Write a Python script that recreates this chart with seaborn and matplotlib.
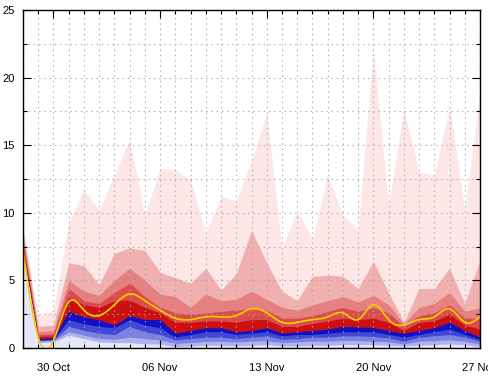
import numpy as np
import pandas as pd
import matplotlib
matplotlib.use('Agg')
import matplotlib.pyplot as plt
import matplotlib.dates as mdates
import seaborn as sns

# daily values, 28 Oct .. 27 Nov (31 days)
days = pd.date_range('2023-10-28', '2023-11-27', freq='D')

q10 = [6.9, 0.4, 0.45, 0.95, 0.7, 0.45, 0.4, 0.4, 0.3, 0.3, 0.1, 0.15, 0.2, 0.2, 0.15, 0.2,
       0.25, 0.15, 0.15, 0.2, 0.2, 0.25, 0.25, 0.25, 0.2, 0.15, 0.2, 0.25, 0.3, 0.25, 0.1]
q20 = [7.0, 0.5, 0.55, 1.2, 0.95, 0.7, 0.65, 0.8, 0.7, 0.6, 0.35, 0.4, 0.5, 0.5, 0.45, 0.5,
       0.55, 0.4, 0.45, 0.5, 0.5, 0.55, 0.55, 0.5, 0.45, 0.3, 0.5, 0.55, 0.6, 0.5, 0.3]
q30 = [7.1, 0.55, 0.6, 1.6, 1.3, 1.1, 1.0, 1.6, 1.2, 1.0, 0.6, 0.7, 0.8, 0.8, 0.7, 0.8,
       0.9, 0.65, 0.7, 0.8, 0.8, 0.9, 0.9, 0.85, 0.75, 0.5, 0.8, 0.9, 1.0, 0.8, 0.5]
q40 = [7.15, 0.6, 0.65, 2.1, 1.8, 1.6, 1.5, 2.1, 1.7, 1.5, 0.8, 1.0, 1.2, 1.2, 1.0, 1.1,
       1.2, 0.9, 1.0, 1.0, 1.1, 1.2, 1.2, 1.2, 1.0, 0.8, 1.0, 1.2, 1.4, 1.0, 0.65]
q50 = [7.2, 0.7, 0.75, 2.7, 2.3, 2.1, 1.7, 2.4, 2.1, 2.1, 1.1, 1.3, 1.5, 1.5, 1.2, 1.3,
       1.5, 1.1, 1.2, 1.3, 1.4, 1.6, 1.55, 1.5, 1.3, 1.1, 1.3, 1.5, 1.9, 1.3, 0.8]
q60 = [7.5, 0.85, 0.9, 3.7, 3.2, 3.0, 3.5, 3.55, 3.0, 2.6, 1.9, 1.9, 2.0, 2.0, 1.9, 2.1,
       2.1, 1.6, 1.6, 1.8, 2.0, 2.2, 2.1, 2.2, 1.9, 1.3, 1.9, 2.0, 2.5, 1.7, 1.4]
q70 = [7.9, 1.0, 1.05, 4.4, 3.5, 3.3, 4.1, 4.8, 3.8, 3.0, 2.6, 2.5, 2.6, 2.7, 2.8, 2.9,
       2.8, 2.2, 2.2, 2.4, 2.7, 3.0, 2.7, 3.0, 2.6, 1.6, 2.4, 2.6, 3.2, 2.2, 2.2]
q80 = [8.3, 1.2, 1.3, 5.0, 4.2, 3.9, 5.0, 5.9, 5.0, 4.0, 3.8, 3.0, 4.0, 3.5, 3.6, 4.2,
       3.6, 3.0, 2.8, 3.2, 3.5, 3.8, 3.4, 3.9, 3.2, 1.8, 3.0, 3.3, 4.1, 2.7, 3.0]
q90 = [8.7, 1.6, 1.7, 6.3, 6.1, 4.7, 7.0, 7.4, 7.2, 5.6, 5.2, 4.8, 5.9, 4.3, 5.5, 8.7,
       6.3, 4.2, 3.5, 5.3, 5.4, 5.3, 4.4, 6.4, 4.1, 1.9, 4.4, 4.4, 5.9, 3.3, 6.5]
qmax = [9.0, 2.4, 2.8, 9.3, 11.7, 10.2, 12.8, 15.4, 9.8, 13.3, 13.2, 12.4, 8.5, 11.2, 10.9, 13.8,
        17.4, 7.4, 10.1, 8.1, 12.8, 9.8, 8.7, 22.2, 10.5, 17.7, 13.0, 12.8, 17.9, 10.2, 19.0]
mean = [7.2, 0.8, 0.55, 3.4, 2.8, 2.4, 3.2, 4.0, 3.5, 2.8, 2.2, 2.1, 2.3, 2.3, 2.4, 2.9,
        2.6, 1.9, 1.9, 2.1, 2.3, 2.6, 2.1, 3.2, 2.1, 1.7, 2.1, 2.3, 2.9, 1.9, 2.3]

band_colors = ['#e6e6fa', '#aeb2ee', '#7c82e2', '#4048d6', '#1010c4',
               '#cc1010', '#dc4a4a', '#e68080', '#f0b0b0', '#fde6e6']


def csplines(y, n=12):
    # natural cubic spline through daily points
    y = np.asarray(y, float)
    m = len(y)
    A = np.zeros((m, m))
    b = np.zeros(m)
    A[0, 0] = A[-1, -1] = 1
    for i in range(1, m - 1):
        A[i, i - 1], A[i, i], A[i, i + 1] = 1, 4, 1
        b[i] = 6 * (y[i + 1] - 2 * y[i] + y[i - 1])
    M = np.linalg.solve(A, b)
    t = np.linspace(0, m - 1, (m - 1) * n + 1)
    i = np.minimum(t.astype(int), m - 2)
    u = t - i
    yy = ((1 - u) * y[i] + u * y[i + 1]
          + ((1 - u) ** 3 - (1 - u)) * M[i] / 6 + (u ** 3 - u) * M[i + 1] / 6)
    return t, yy


sns.set_style('ticks')
plt.rcParams['font.family'] = ['Liberation Sans', 'DejaVu Sans']

fig = plt.figure(figsize=(4.88, 3.76), dpi=100)
ax = fig.add_axes([23 / 488, 1 - 348 / 376, 457 / 488, 338 / 376])

levels = [q10, q20, q30, q40, q50, q60, q70, q80, q90, qmax]
# paint from the top band downwards so bands never leave seams
for lev, col in reversed(list(zip(levels, band_colors))):
    ax.fill_between(days, 0, lev, color=col, lw=0, zorder=1)

t, sm = csplines(mean)
sm_days = days[0] + pd.to_timedelta(t, unit='D')
sns.lineplot(x=sm_days, y=sm, ax=ax, color='#f2d000', lw=1.2, zorder=4)

ax.set_xlim(days[0], days[-1])
ax.set_ylim(0, 25)
ax.set_xticks(pd.to_datetime(['2023-10-30', '2023-11-06', '2023-11-13', '2023-11-20', '2023-11-27']))
ax.xaxis.set_minor_locator(mdates.DayLocator())
ax.xaxis.set_major_formatter(mdates.DateFormatter('%d %b'))
ax.set_yticks([0, 5, 10, 15, 20, 25])
ax.set_yticks([2.5, 7.5, 12.5, 17.5, 22.5], minor=True)
ax.set_xlabel('')
ax.set_ylabel('')

ax.tick_params(which='both', direction='in', top=True, right=True, colors='black',
               labelsize=8, width=0.8)
ax.tick_params(which='major', length=6)
ax.tick_params(which='minor', length=3)
ax.tick_params(axis='x', which='major', pad=11)
ax.tick_params(axis='y', which='major', pad=6)

ax.set_axisbelow(False)
ax.grid(which='both', color='#a8a8a8', lw=0.8, linestyle=(0, (1.2, 3.5)), zorder=3)
for s in ax.spines.values():
    s.set_visible(True)
    s.set_color('black')
    s.set_linewidth(1.0)
    s.set_zorder(5)

fig.savefig('out.png', dpi=100)
